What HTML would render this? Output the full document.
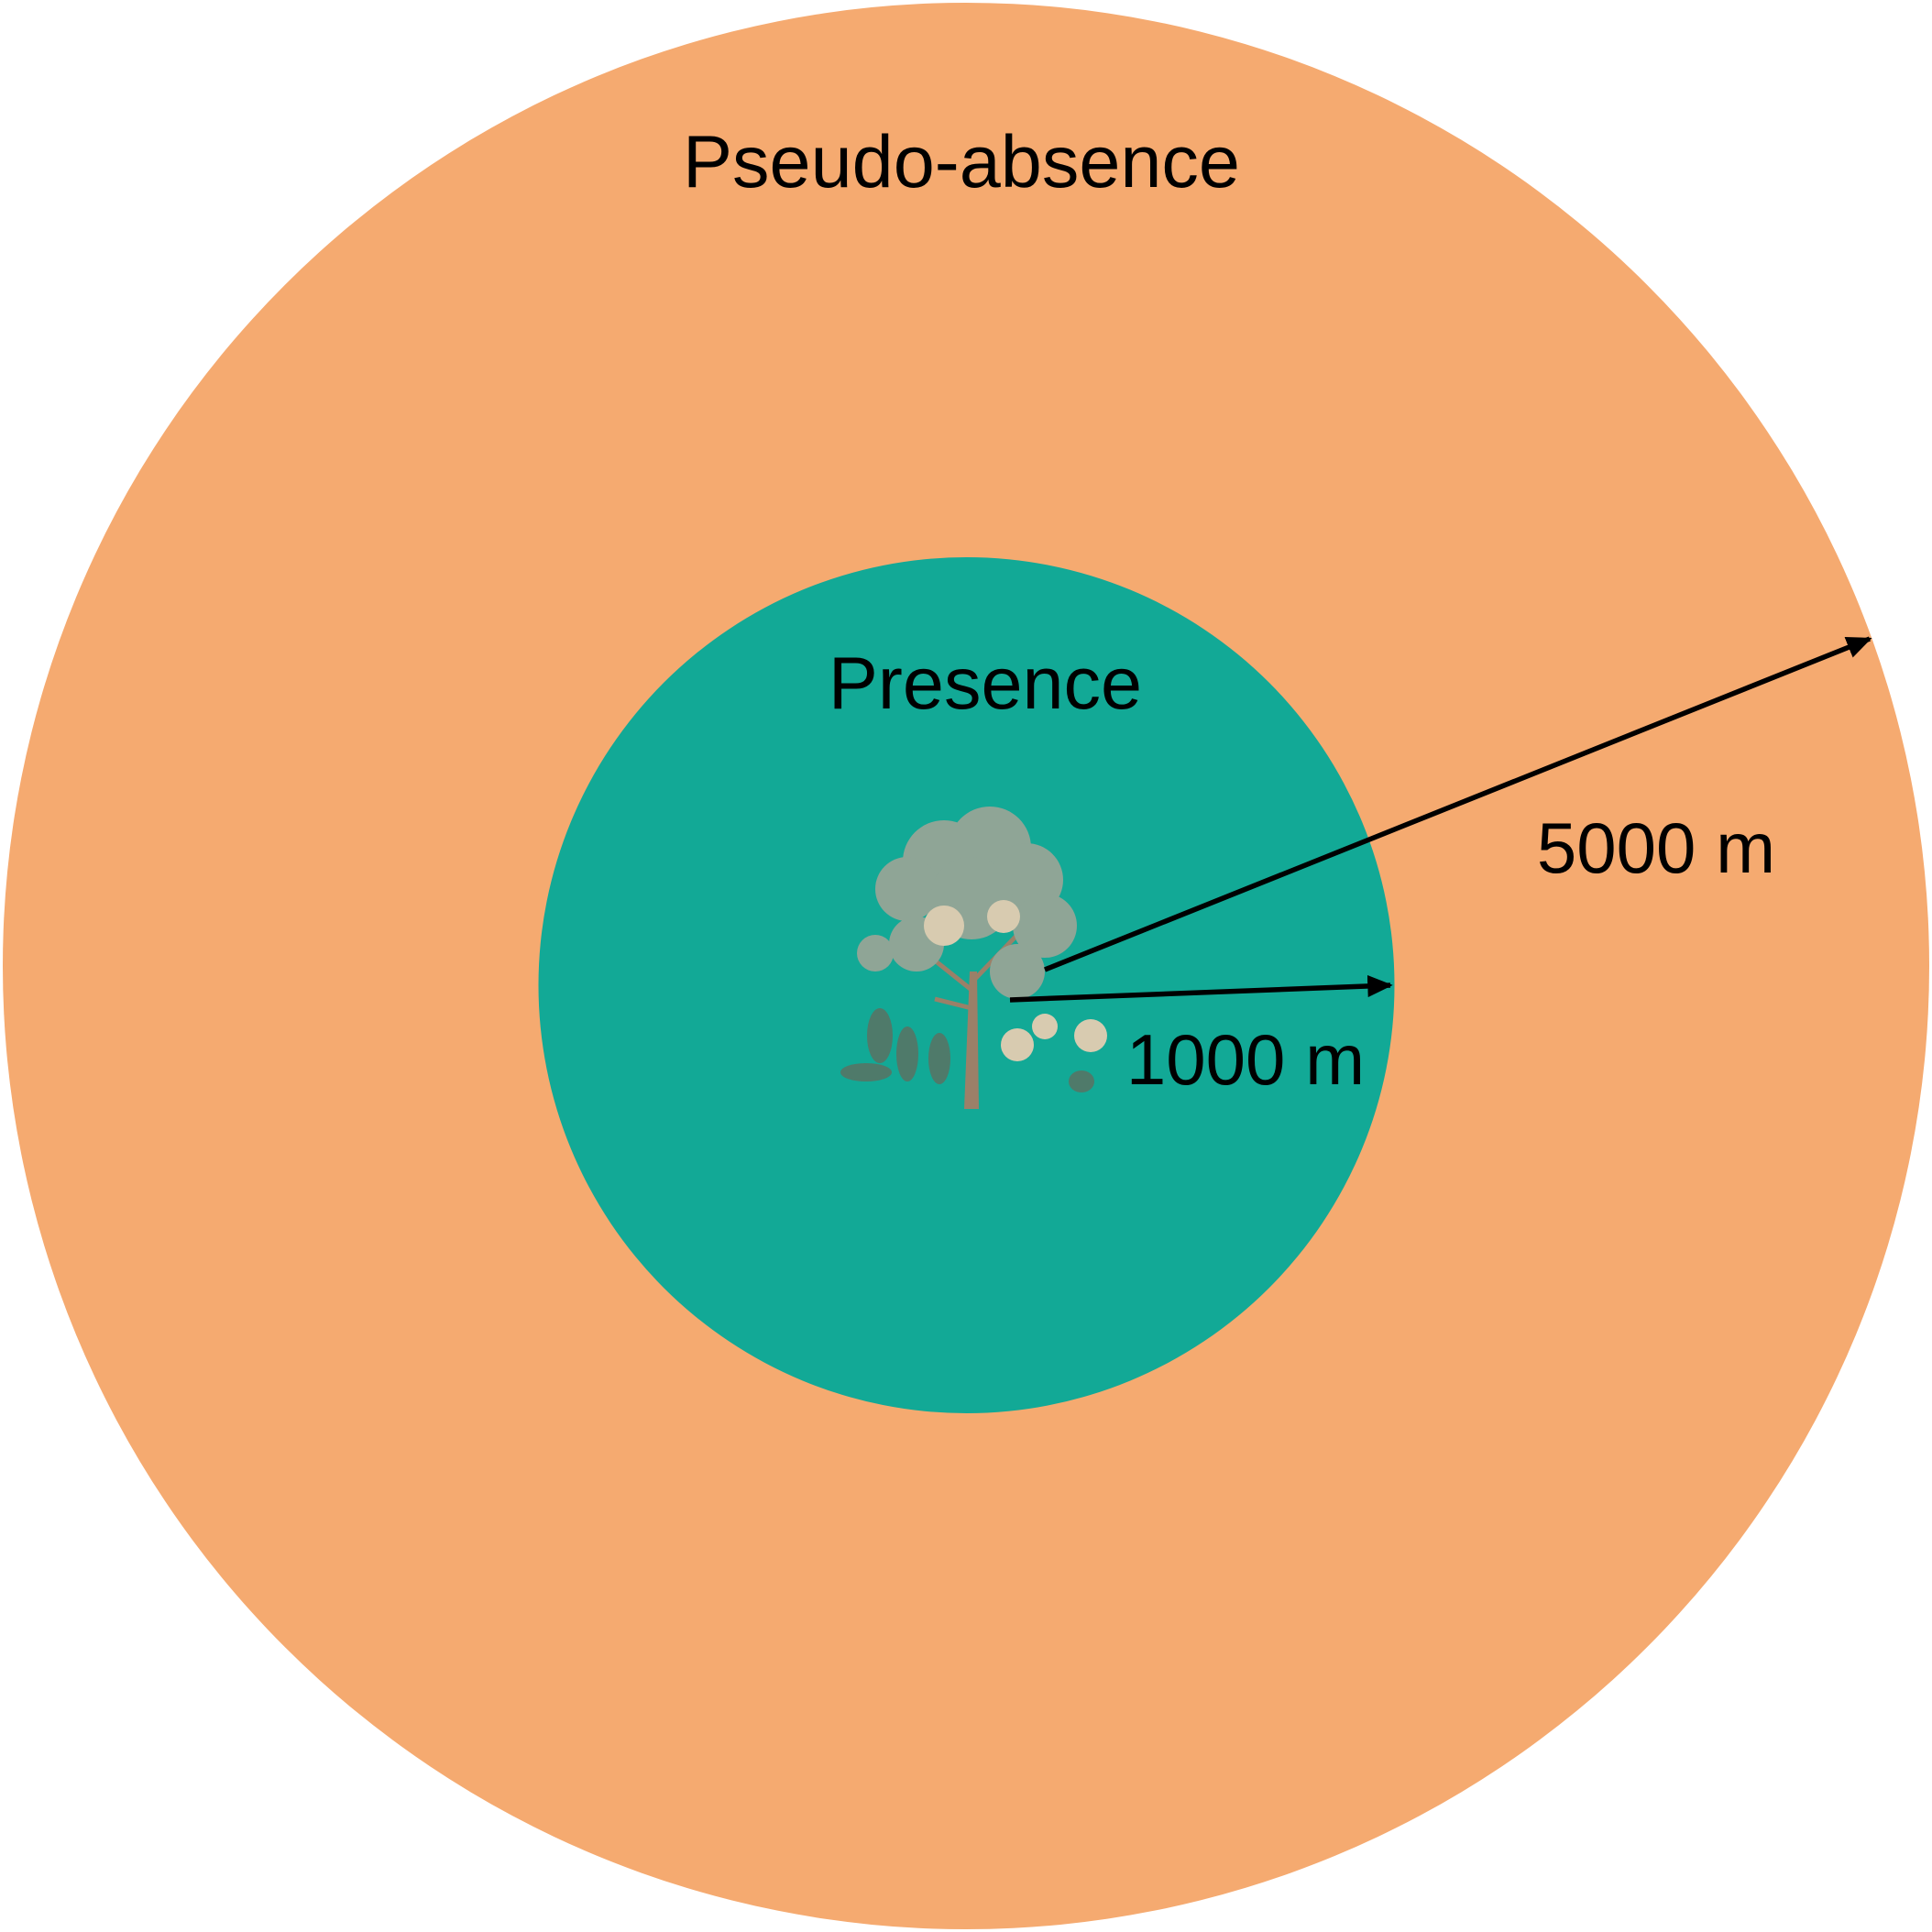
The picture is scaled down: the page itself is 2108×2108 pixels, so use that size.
<!DOCTYPE html>
<html><head><meta charset="utf-8"><style>
html,body{margin:0;padding:0;background:#fff}
svg{display:block}
text{font-family:"Liberation Sans",sans-serif;fill:#000}
</style></head><body>
<svg width="2108" height="2108" viewBox="0 0 2108 2108">
<defs>
<marker id="ah" markerWidth="5" markerHeight="4.4" refX="4.5" refY="2.2" orient="auto" markerUnits="strokeWidth">
<path d="M0,0 L5,2.2 L0,4.4 z" fill="#000"/>
</marker>
</defs>
<circle cx="1054" cy="1054" r="1051" fill="#F5AA70"/>
<circle cx="1054.5" cy="1075" r="467" fill="#12A996"/>
<text x="1049" y="204" font-size="81" text-anchor="middle">Pseudo-absence</text>
<text x="1075" y="773" font-size="81" text-anchor="middle">Presence</text>
<g>
<path d="M1052,1210 L1058,1060 L1066,1060 L1068,1210 Z" fill="#9b8068"/>
<path d="M1060,1080 L1010,1040 M1062,1070 L1110,1020 M1060,1100 L1020,1090" stroke="#9b8068" stroke-width="5" fill="none"/>
<g fill="#8fa596">
<circle cx="1030" cy="940" r="45"/><circle cx="1080" cy="925" r="45"/><circle cx="1120" cy="960" r="40"/>
<circle cx="990" cy="970" r="35"/><circle cx="1060" cy="980" r="45"/><circle cx="1140" cy="1010" r="35"/>
<circle cx="1000" cy="1030" r="30"/><circle cx="1110" cy="1060" r="30"/><circle cx="955" cy="1040" r="20"/>
</g>
<g fill="#d8cbb0">
<circle cx="1030" cy="1010" r="22"/><circle cx="1095" cy="1000" r="18"/><circle cx="1110" cy="1140" r="18"/><circle cx="1140" cy="1120" r="14"/><circle cx="1190" cy="1130" r="18"/>
</g>
<g fill="#4f7a6a">
<ellipse cx="960" cy="1130" rx="14" ry="30"/><ellipse cx="990" cy="1150" rx="12" ry="30"/><ellipse cx="1025" cy="1155" rx="12" ry="28"/><ellipse cx="945" cy="1170" rx="28" ry="10"/><ellipse cx="1180" cy="1180" rx="14" ry="12"/>
</g>
</g>
<line x1="1140" y1="1058" x2="2040" y2="697" stroke="#000" stroke-width="5.5" marker-end="url(#ah)"/>
<line x1="1102" y1="1091" x2="1517" y2="1075" stroke="#000" stroke-width="5.5" marker-end="url(#ah)"/>
<text x="1807" y="952" font-size="78" text-anchor="middle">5000 m</text>
<text x="1359" y="1183" font-size="78" text-anchor="middle">1000 m</text>
</svg>
</body></html>
